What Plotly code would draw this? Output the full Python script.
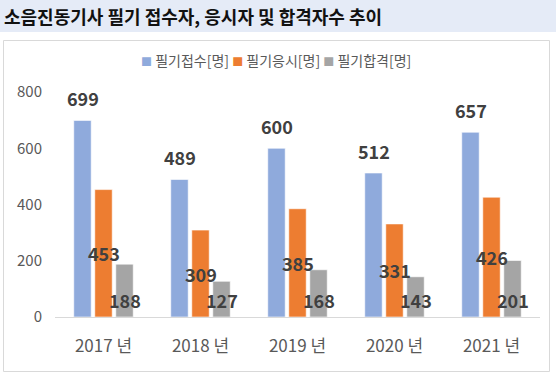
import plotly.graph_objects as go

years = ["2017 년", "2018 년", "2019 년", "2020 년", "2021 년"]
applied = [699, 489, 600, 512, 657]
taken = [453, 309, 385, 331, 426]
passed = [188, 127, 168, 143, 201]
series_names = ["필기접수[명]", "필기응시[명]", "필기합격[명]"]
colors = ["#8FAADC", "#ED7D31", "#A5A5A5"]

W, H = 556, 376
L, R, T, B = 55, 16, 92, 59
FONT = "Noto Sans CJK KR"
pw, ph = W - L - R, H - T - B

def px(x):
    return (x - L) / pw

def py(y):
    return (H - B - y) / ph

fig = go.Figure()
for name, vals, col in zip(series_names, [applied, taken, passed], colors):
    fig.add_trace(go.Bar(x=years, y=vals, name=name, marker_color=col,
                         marker_line_color="rgba(255,255,255,0.6)", marker_line_width=1,
                         hoverinfo="x+y"))

slot = 21
lab_font = dict(family=FONT, size=18, color="#404040", weight="bold")
ann = []
for yr, a, t, p in zip(years, applied, taken, passed):
    ann.append(dict(x=yr, y=a, xref="x", yref="y", text=str(a), showarrow=False,
                    xshift=-slot, yshift=22, yanchor="middle", font=lab_font))
    ann.append(dict(x=yr, y=t / 2, xref="x", yref="y", text=str(t), showarrow=False,
                    xshift=0, yanchor="middle", font=lab_font))
    ann.append(dict(x=yr, y=0, xref="x", yref="y", text=str(p), showarrow=False,
                    xshift=slot, yshift=17, yanchor="middle", font=lab_font))

# title
ann.append(dict(x=px(2), y=py(16), xref="paper", yref="paper", xanchor="left", yanchor="middle",
                text="소음진동기사 필기 접수자, 응시자 및 합격자수 추이", showarrow=False,
                font=dict(family=FONT, size=18, color="#111111", weight="bold")))
# legend
leg = "".join(f"<span style='color:{c};font-size:11px'>■</span> {n} " for n, c in zip(series_names, colors))
ann.append(dict(x=px(276), y=py(60), xref="paper", yref="paper", xanchor="center", yanchor="middle",
                text=leg.strip(), showarrow=False, font=dict(family=FONT, size=14, color="#595959")))

shapes = [
    dict(type="rect", xref="paper", yref="paper", x0=px(0), x1=px(W), y0=py(32), y1=py(0),
         fillcolor="#E5EBF7", line_width=0, layer="below"),
    dict(type="rect", xref="paper", yref="paper", x0=px(3.5), x1=px(549.5), y0=py(371.5), y1=py(40.5),
         fillcolor="rgba(0,0,0,0)", line=dict(color="#D9D9D9", width=1)),
]

fig.update_layout(
    width=W, height=H, margin=dict(l=L, r=R, t=T, b=B),
    paper_bgcolor="white", plot_bgcolor="white",
    barmode="group", bargap=0.35, bargroupgap=0.17,
    showlegend=False, annotations=ann, shapes=shapes,
    font=dict(family=FONT, color="#595959"),
)
fig.update_xaxes(showline=True, linecolor="#D9D9D9", linewidth=1, showgrid=False,
                 tickfont=dict(family=FONT, size=17, color="#595959"), ticklabelstandoff=14)
fig.update_yaxes(range=[0, 800], dtick=200, showgrid=False, zeroline=False,
                 tickfont=dict(family=FONT, size=15, color="#595959"), ticklabelstandoff=12)

fig.write_html("out.html", config={"displayModeBar": False},
               post_script="document.body.style.margin='0';")
